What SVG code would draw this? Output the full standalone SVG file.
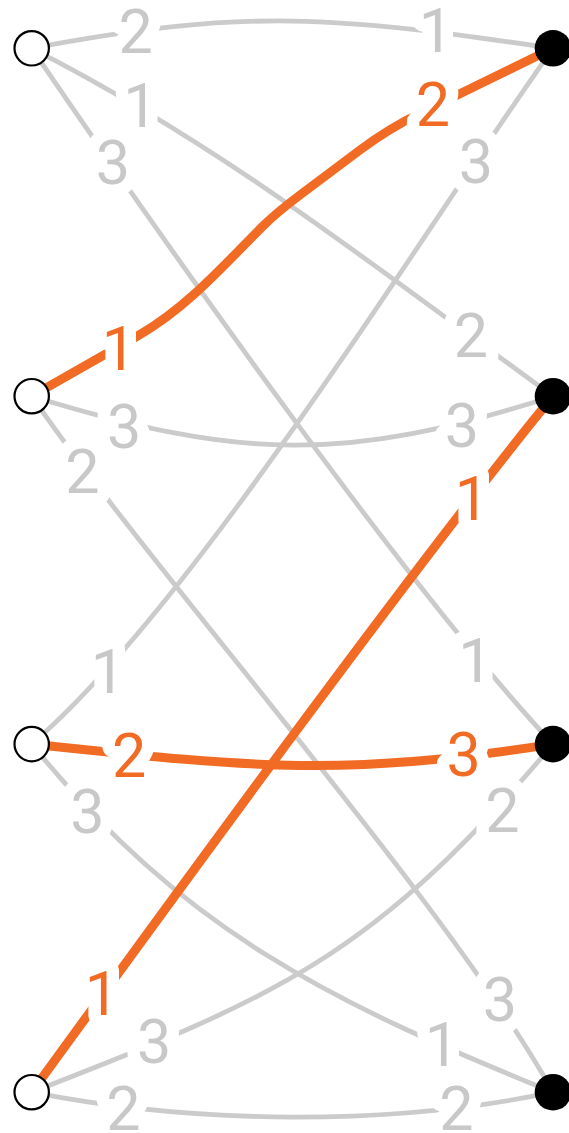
<svg xmlns="http://www.w3.org/2000/svg" width="569" height="1133" viewBox="0 0 569 1133">
<style>
.e{fill:none;stroke:#cbcbcb;stroke-width:4.8;stroke-linecap:butt}
.m{fill:none;stroke:#f26b24;stroke-width:9;stroke-linejoin:round}
.t{font-family:Roboto,"Liberation Sans",sans-serif;font-size:61px;text-anchor:middle;stroke:#fff;stroke-width:25;stroke-linejoin:round;paint-order:stroke}
.g{fill:#c8c8c8}
.o{fill:#f26b24}
.ln{fill:#fff;stroke:#000;stroke-width:2.2}
.rn{fill:#000}
</style>
<rect width="569" height="1133" fill="#fff"/>
<g id="connectors">
<path id="e-L1-R1" class="e" d="M31.7,48.3 C246.9,7.6 335.9,16.3 553,48.3"/>
<path id="e-L1-R2" class="e" d="M31.7,48.3 C225.1,146.8 377,268.6 553,396.2"/>
<path id="e-L1-R3" class="e" d="M31.7,48.3 C154,227.6 404.5,585.4 553,744.1"/>
<path id="e-L2-R2" class="e" d="M31.7,396.2 C239.2,459.7 346.1,463.3 553,396.2"/>
<path id="e-L2-R4" class="e" d="M31.7,396.2 C154.6,575 447.3,902.2 553,1092.2"/>
<path id="e-L3-R1" class="e" d="M31.7,744.1 C196.5,602.9 426.8,225.2 553,48.3"/>
<path id="e-L3-R4" class="e" d="M31.7,744.1 C182.7,930.6 330,1002.1 553,1092.2"/>
<path id="e-L4-R3" class="e" d="M31.7,1092.2 C274.1,998 372.5,958.6 553,744.1"/>
<path id="e-L4-R4" class="e" d="M31.7,1092.2 C193.5,1124.3 391.1,1126.3 553,1092.2"/>
<path id="e-L2-R1" class="m" d="M31.7,396.2 L140,334.5 C186.8,307.6 223.8,265.2 262,227 C276,213 288,204 300,195 L360,150 Q388.5,128.6 420,113.2 L553,48.3"/>
<path id="e-L3-R3" class="m" d="M31.7,744.1 C247.5,766.8 338.2,778 553,744.1"/>
<path id="e-L4-R2" class="m" d="M31.7,1092.2 C159.3,916.6 415.1,564.2 553,396.2"/>
</g>
<g id="labels">
<text class="t g" x="135.7" y="53.4">2</text>
<text class="t g" x="436" y="51.7">1</text>
<text class="t g" x="140.3" y="126.7">1</text>
<text class="t g" x="471" y="357">2</text>
<text class="t g" x="112.8" y="184.2">3</text>
<text class="t g" x="475.5" y="682">1</text>
<text class="t o" x="119" y="370">1</text>
<text class="t o" x="432.8" y="126.4">2</text>
<text class="t g" x="124.2" y="448.4">3</text>
<text class="t g" x="461.8" y="446.7">3</text>
<text class="t g" x="82.5" y="493.4">2</text>
<text class="t g" x="499.8" y="1020.5">3</text>
<text class="t g" x="107.8" y="693.4">1</text>
<text class="t g" x="476" y="182.5">3</text>
<text class="t o" x="129.2" y="776.7">2</text>
<text class="t o" x="463.7" y="775.9">3</text>
<text class="t g" x="87.5" y="833.4">3</text>
<text class="t g" x="441.8" y="1066.4">1</text>
<text class="t o" x="102" y="1014.7">1</text>
<text class="t o" x="472" y="520">1</text>
<text class="t g" x="154.2" y="1063">3</text>
<text class="t g" x="502.3" y="831.7">2</text>
<text class="t g" x="123.3" y="1129.7">2</text>
<text class="t g" x="456.5" y="1129.7">2</text>
</g>
<g id="L1"><circle class="ln" cx="31.7" cy="48.3" r="17.2"/></g>
<g id="L2"><circle class="ln" cx="31.7" cy="396.2" r="17.2"/></g>
<g id="L3"><circle class="ln" cx="31.7" cy="744.1" r="17.2"/></g>
<g id="L4"><circle class="ln" cx="31.7" cy="1092.2" r="17.2"/></g>
<g id="R1"><circle class="rn" cx="553" cy="48.3" r="18.3"/></g>
<g id="R2"><circle class="rn" cx="553" cy="396.2" r="18.3"/></g>
<g id="R3"><circle class="rn" cx="553" cy="744.1" r="18.3"/></g>
<g id="R4"><circle class="rn" cx="553" cy="1092.2" r="18.3"/></g>
</svg>
